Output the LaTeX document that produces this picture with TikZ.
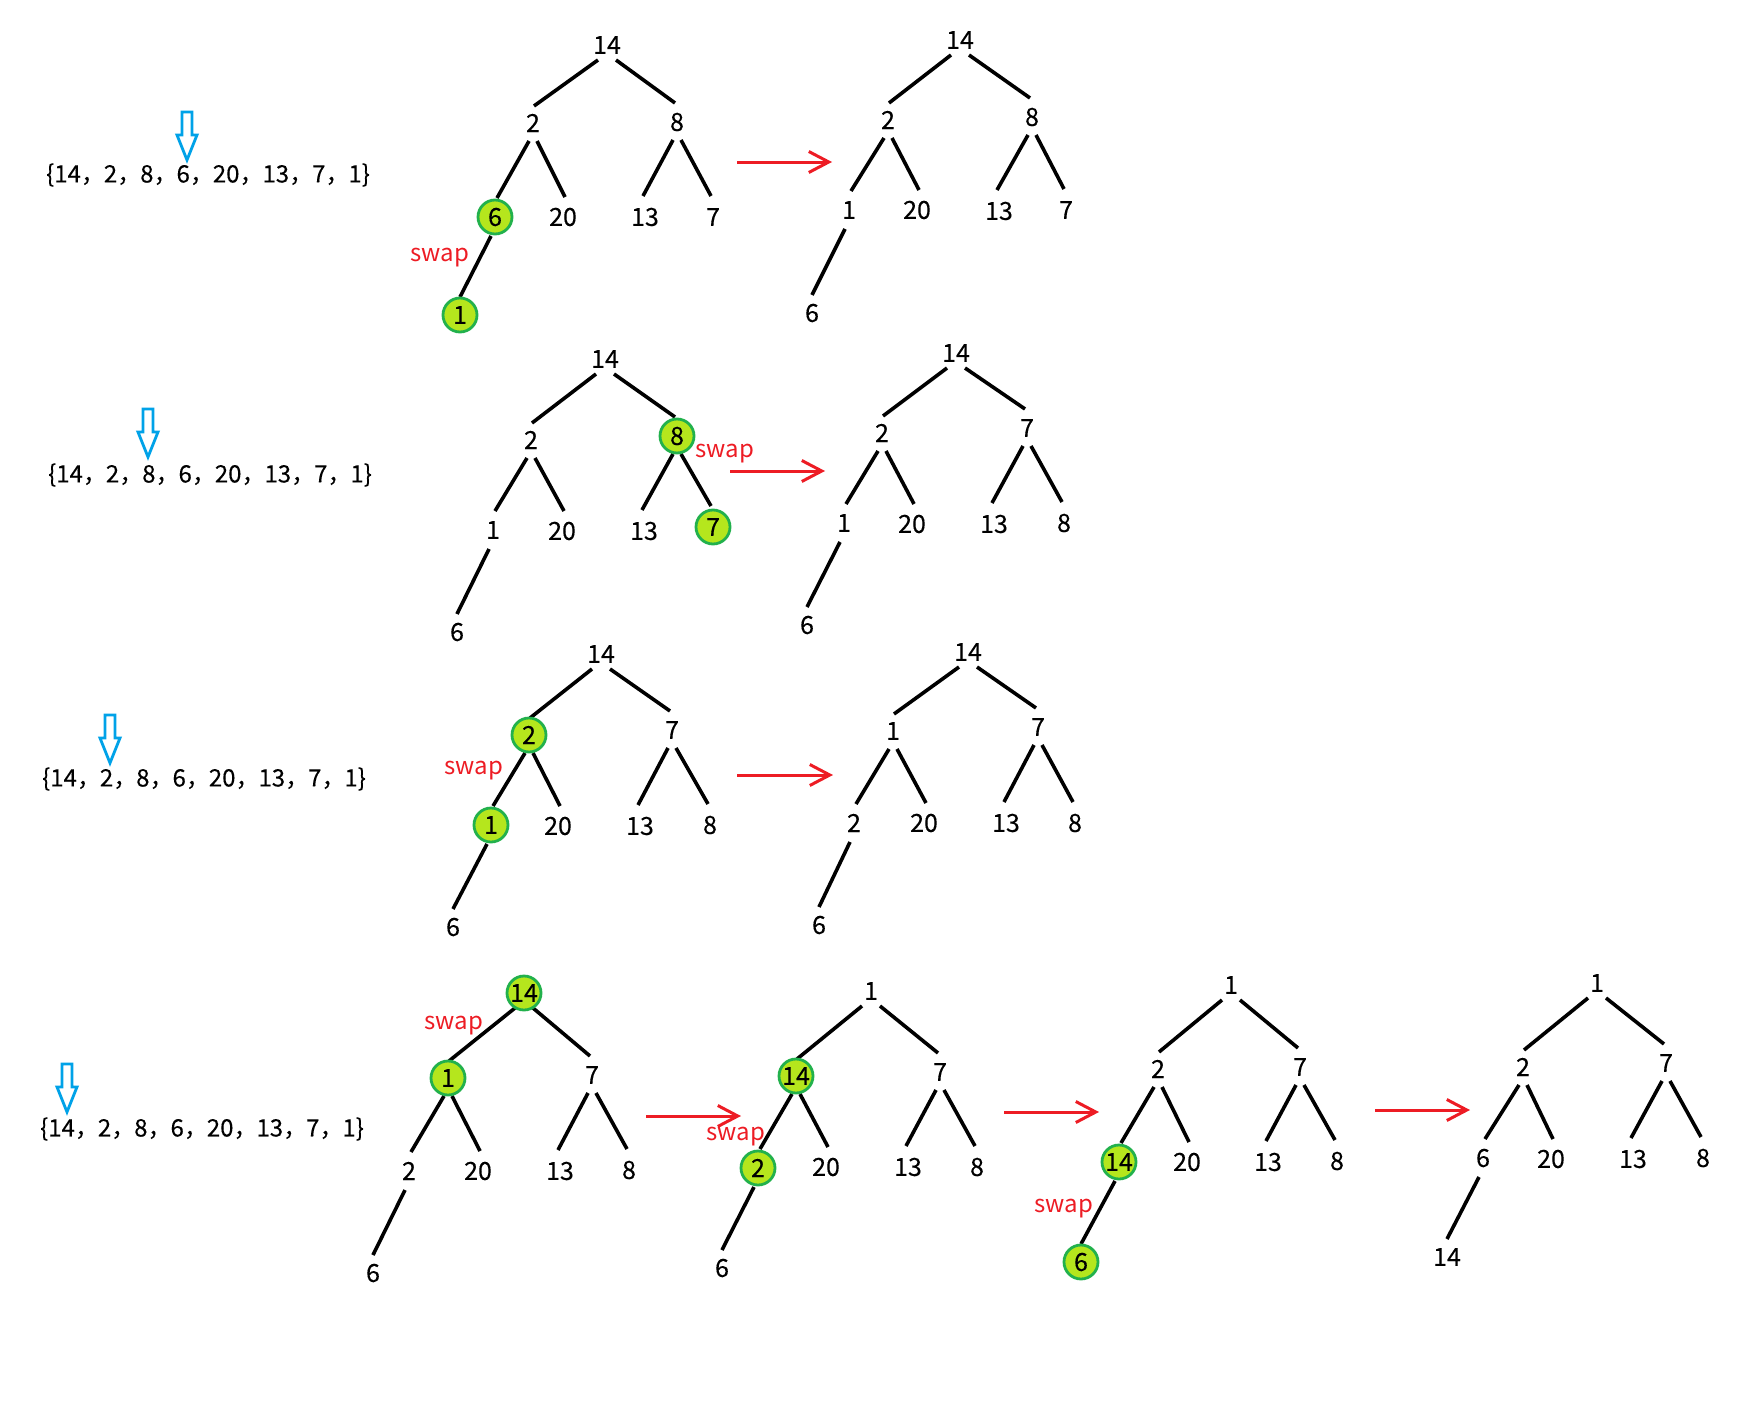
\documentclass[tikz,border=0pt]{standalone}
\usepackage{fontspec}
\setmainfont{Noto Sans CJK SC}
\usetikzlibrary{arrows.meta}
\pgfdeclarelayer{bg}
\pgfsetlayers{bg,main}
\definecolor{hlgreen}{RGB}{34,177,76}
\definecolor{hllime}{RGB}{181,230,29}
\definecolor{swapred}{RGB}{237,28,36}
\definecolor{hintblue}{RGB}{0,162,232}
\newfontfamily\numfamily[FakeBold=0.2]{Noto Sans CJK SC}
\newfontfamily\plainfamily{Noto Sans CJK SC}
\newcommand\numfont{\numfamily\fontsize{25}{25}\selectfont}
\newcommand\swapfont{\plainfamily\fontsize{24}{24}\selectfont}
\newcommand\arrfont{\numfamily\fontsize{24}{24}\selectfont}
\newcommand\cm{，\hspace{-1pt}}
\tikzset{
  num/.style={font=\numfont, inner sep=0pt},
  hl/.style={num, circle, draw=hlgreen, line width=2.8pt, fill=hllime, minimum size=34pt},
  edge/.style={line width=3.6pt, black},
  swaplbl/.style={font=\swapfont, text=swapred, inner sep=0pt},
  redarrow/.style={line width=3pt, swapred, -{Straight Barb[length=20pt,width=21pt]}},
  arr/.style={font=\arrfont, inner sep=0pt},
  hollowarrow/.style={draw=hintblue, line width=2.8pt, fill=white, line join=miter}
}
\newcommand\heapedges[1]{%
  \begin{pgfonlayer}{bg}
  \draw[edge] ([shift={(-9,15)}]#1-0.center) -- ([shift={(1,-17)}]#1-1.center);
  \draw[edge] ([shift={(9,15)}]#1-0.center) -- ([shift={(-2,-19)}]#1-2.center);
  \draw[edge] ([shift={(-4,18)}]#1-1.center) -- ([shift={(2,-19)}]#1-3.center);
  \draw[edge] ([shift={(4,18)}]#1-1.center) -- ([shift={(2,-20)}]#1-4.center);
  \draw[edge] ([shift={(-4,18)}]#1-2.center) -- ([shift={(-2,-21)}]#1-5.center);
  \draw[edge] ([shift={(4,18)}]#1-2.center) -- ([shift={(-2,-21)}]#1-6.center);
  \draw[edge] ([shift={(-4,19)}]#1-3.center) -- ([shift={(0,-18)}]#1-7.center);
  \end{pgfonlayer}}
\newcommand\hollowdown[2]{%
  \draw[hollowarrow] (#1-5,#2) -- (#1+5,#2) -- (#1+5,#2+23) -- (#1+10,#2+23) -- (#1,#2+48)
    -- (#1-10,#2+23) -- (#1-5,#2+23) -- cycle;}
\begin{document}
\begin{tikzpicture}[x=1pt,y=-1pt]
\useasboundingbox (0,0) rectangle (1740,1410);

% arrays
\node[arr] (arr1) at (208,175) {\{14\cm2\cm8\cm6\cm20\cm13\cm7\cm1\}};
\node[arr] (arr2) at (210,475) {\{14\cm2\cm8\cm6\cm20\cm13\cm7\cm1\}};
\node[arr] (arr3) at (204,779) {\{14\cm2\cm8\cm6\cm20\cm13\cm7\cm1\}};
\node[arr] (arr4) at (202,1129) {\{14\cm2\cm8\cm6\cm20\cm13\cm7\cm1\}};
\hollowdown{187}{112}
\hollowdown{148}{409}
\hollowdown{110}{715}
\hollowdown{67}{1064}

% Tree A (row 1, left)
\node[num] (A-0) at (607,45) {14};
\node[num] (A-1) at (533,123) {2};
\node[num] (A-2) at (677,122) {8};
\node[hl]  (A-3) at (495,217) {6};
\node[num] (A-4) at (563,217) {20};
\node[num] (A-5) at (645,217) {13};
\node[num] (A-6) at (713,217) {7};
\node[hl]  (A-7) at (460,315) {1};
\node[swaplbl] (A-s) at (440,258) {swap};
\heapedges{A}

% Tree B (row 1, right)
\node[num] (B-0) at (960,40) {14};
\node[num] (B-1) at (888,120) {2};
\node[num] (B-2) at (1032,117) {8};
\node[num] (B-3) at (849,210) {1};
\node[num] (B-4) at (917,210) {20};
\node[num] (B-5) at (999,211) {13};
\node[num] (B-6) at (1066,210) {7};
\node[num] (B-7) at (812,313) {6};
\heapedges{B}

% Tree C (row 2, left)
\node[num] (C-0) at (605,359) {14};
\node[num] (C-1) at (531,440) {2};
\node[hl]  (C-2) at (677,436) {8};
\node[num] (C-3) at (493,530) {1};
\node[num] (C-4) at (562,531) {20};
\node[num] (C-5) at (644,531) {13};
\node[hl]  (C-6) at (713,527) {7};
\node[num] (C-7) at (457,632) {6};
\node[swaplbl] (C-s) at (725,454) {swap};
\heapedges{C}

% Tree D (row 2, right)
\node[num] (D-0) at (956,353) {14};
\node[num] (D-1) at (882,433) {2};
\node[num] (D-2) at (1027,428) {7};
\node[num] (D-3) at (844,523) {1};
\node[num] (D-4) at (912,524) {20};
\node[num] (D-5) at (994,524) {13};
\node[num] (D-6) at (1064,523) {8};
\node[num] (D-7) at (807,625) {6};
\heapedges{D}

% Tree E (row 3, left)
\node[num] (E-0) at (601,654) {14};
\node[hl]  (E-1) at (529,735) {2};
\node[num] (E-2) at (672,730) {7};
\node[hl]  (E-3) at (491,825) {1};
\node[num] (E-4) at (558,826) {20};
\node[num] (E-5) at (640,826) {13};
\node[num] (E-6) at (710,825) {8};
\node[num] (E-7) at (453,927) {6};
\node[swaplbl] (E-s) at (474,771) {swap};
\heapedges{E}

% Tree F (row 3, right)
\node[num] (F-0) at (968,652) {14};
\node[num] (F-1) at (893,731) {1};
\node[num] (F-2) at (1038,727) {7};
\node[num] (F-3) at (854,823) {2};
\node[num] (F-4) at (924,823) {20};
\node[num] (F-5) at (1006,823) {13};
\node[num] (F-6) at (1075,823) {8};
\node[num] (F-7) at (819,925) {6};
\heapedges{F}

% Tree G (row 4, first)
\node[hl]  (G-0) at (524,993) {14};
\node[hl]  (G-1) at (448,1078) {1};
\node[num] (G-2) at (592,1075) {7};
\node[num] (G-3) at (409,1171) {2};
\node[num] (G-4) at (478,1171) {20};
\node[num] (G-5) at (560,1171) {13};
\node[num] (G-6) at (629,1170) {8};
\node[num] (G-7) at (373,1273) {6};
\node[swaplbl] (G-s) at (454,1026) {swap};
\heapedges{G}

% Tree H (row 4, second)
\node[num] (H-0) at (871,991) {1};
\node[hl]  (H-1) at (796,1076) {14};
\node[num] (H-2) at (940,1072) {7};
\node[hl]  (H-3) at (758,1168) {2};
\node[num] (H-4) at (826,1167) {20};
\node[num] (H-5) at (908,1167) {13};
\node[num] (H-6) at (977,1167) {8};
\node[num] (H-7) at (722,1268) {6};
\node[swaplbl] (H-s) at (736,1137) {swap};
\heapedges{H}

% Tree I (row 4, third)
\node[num] (I-0) at (1231,985) {1};
\node[num] (I-1) at (1158,1069) {2};
\node[num] (I-2) at (1300,1067) {7};
\node[hl]  (I-3) at (1119,1162) {14};
\node[num] (I-4) at (1187,1162) {20};
\node[num] (I-5) at (1268,1162) {13};
\node[num] (I-6) at (1337,1161) {8};
\node[hl]  (I-7) at (1081,1262) {6};
\node[swaplbl] (I-s) at (1064,1209) {swap};
\heapedges{I}

% Tree J (row 4, last)
\node[num] (J-0) at (1597,983) {1};
\node[num] (J-1) at (1523,1067) {2};
\node[num] (J-2) at (1666,1063) {7};
\node[num] (J-3) at (1483,1158) {6};
\node[num] (J-4) at (1551,1159) {20};
\node[num] (J-5) at (1633,1159) {13};
\node[num] (J-6) at (1703,1158) {8};
\node[num] (J-7) at (1447,1257) {14};
\heapedges{J}

% red arrows
\coordinate (r1s) at (737,162);  \coordinate (r1e) at (832,162);
\coordinate (r2s) at (730,471);  \coordinate (r2e) at (825,471);
\coordinate (r3s) at (737,775);  \coordinate (r3e) at (833,775);
\coordinate (r4s) at (646,1116); \coordinate (r4e) at (741,1116);
\coordinate (r5s) at (1004,1112); \coordinate (r5e) at (1099,1112);
\coordinate (r6s) at (1375,1110); \coordinate (r6e) at (1470,1110);
\draw[redarrow] (r1s) -- (r1e);
\draw[redarrow] (r2s) -- (r2e);
\draw[redarrow] (r3s) -- (r3e);
\draw[redarrow] (r4s) -- (r4e);
\draw[redarrow] (r5s) -- (r5e);
\draw[redarrow] (r6s) -- (r6e);
\end{tikzpicture}
\end{document}
